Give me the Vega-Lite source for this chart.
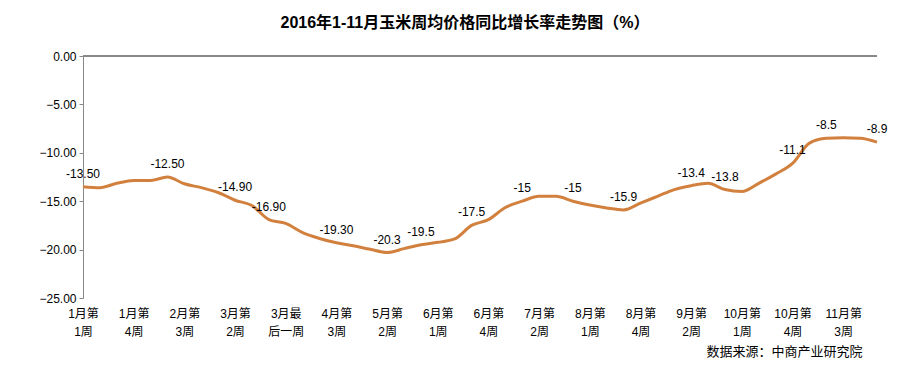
{
  "$schema": "https://vega.github.io/schema/vega-lite/v6.json",
  "autosize": "none",
  "width": 794,
  "height": 242,
  "padding": {"left": 83, "top": 56, "right": 45, "bottom": 83},
  "background": "white",
  "title": {
    "text": "2016年1-11月玉米周均价格同比增长率走势图（%）",
    "font": "Liberation Sans, Noto Sans CJK SC",
    "fontSize": 16,
    "fontWeight": "bold",
    "color": "#000000",
    "anchor": "middle",
    "dx": -15,
    "offset": 19
  },
  "config": {
    "view": {"stroke": null},
    "font": "Liberation Sans, Noto Sans CJK SC"
  },
  "data": {
    "values": [
      {"i": 0, "week": "1月第1周", "v": -13.5, "lbl": "-13.50"},
      {"i": 1, "week": "1月第2周", "v": -13.6, "lbl": ""},
      {"i": 2, "week": "1月第3周", "v": -13.15, "lbl": ""},
      {"i": 3, "week": "1月第4周", "v": -12.85, "lbl": ""},
      {"i": 4, "week": "2月第1周", "v": -12.85, "lbl": ""},
      {"i": 5, "week": "2月第2周", "v": -12.5, "lbl": "-12.50"},
      {"i": 6, "week": "2月第3周", "v": -13.2, "lbl": ""},
      {"i": 7, "week": "2月第4周", "v": -13.6, "lbl": ""},
      {"i": 8, "week": "3月第1周", "v": -14.1, "lbl": ""},
      {"i": 9, "week": "3月第2周", "v": -14.9, "lbl": "-14.90"},
      {"i": 10, "week": "3月第3周", "v": -15.45, "lbl": ""},
      {"i": 11, "week": "3月第4周", "v": -16.9, "lbl": "-16.90"},
      {"i": 12, "week": "3月最后一周", "v": -17.3, "lbl": ""},
      {"i": 13, "week": "4月第1周", "v": -18.25, "lbl": ""},
      {"i": 14, "week": "4月第2周", "v": -18.85, "lbl": ""},
      {"i": 15, "week": "4月第3周", "v": -19.3, "lbl": "-19.30"},
      {"i": 16, "week": "4月第4周", "v": -19.6, "lbl": ""},
      {"i": 17, "week": "5月第1周", "v": -19.97, "lbl": ""},
      {"i": 18, "week": "5月第2周", "v": -20.3, "lbl": "-20.3"},
      {"i": 19, "week": "5月第3周", "v": -19.9, "lbl": ""},
      {"i": 20, "week": "5月第4周", "v": -19.5, "lbl": "-19.5"},
      {"i": 21, "week": "6月第1周", "v": -19.25, "lbl": ""},
      {"i": 22, "week": "6月第2周", "v": -18.9, "lbl": ""},
      {"i": 23, "week": "6月第3周", "v": -17.5, "lbl": "-17.5"},
      {"i": 24, "week": "6月第4周", "v": -16.9, "lbl": ""},
      {"i": 25, "week": "6月最后一周", "v": -15.65, "lbl": ""},
      {"i": 26, "week": "7月第1周", "v": -15.0, "lbl": "-15"},
      {"i": 27, "week": "7月第2周", "v": -14.5, "lbl": ""},
      {"i": 28, "week": "7月第3周", "v": -14.5, "lbl": ""},
      {"i": 29, "week": "7月第4周", "v": -15.0, "lbl": "-15"},
      {"i": 30, "week": "8月第1周", "v": -15.4, "lbl": ""},
      {"i": 31, "week": "8月第2周", "v": -15.7, "lbl": ""},
      {"i": 32, "week": "8月第3周", "v": -15.9, "lbl": "-15.9"},
      {"i": 33, "week": "8月第4周", "v": -15.2, "lbl": ""},
      {"i": 34, "week": "8月最后一周", "v": -14.5, "lbl": ""},
      {"i": 35, "week": "9月第1周", "v": -13.8, "lbl": ""},
      {"i": 36, "week": "9月第2周", "v": -13.4, "lbl": "-13.4"},
      {"i": 37, "week": "9月第3周", "v": -13.15, "lbl": ""},
      {"i": 38, "week": "9月第4周", "v": -13.8, "lbl": "-13.8"},
      {"i": 39, "week": "10月第1周", "v": -14.0, "lbl": ""},
      {"i": 40, "week": "10月第2周", "v": -13.15, "lbl": ""},
      {"i": 41, "week": "10月第3周", "v": -12.2, "lbl": ""},
      {"i": 42, "week": "10月第4周", "v": -11.1, "lbl": "-11.1"},
      {"i": 43, "week": "11月第1周", "v": -9.0, "lbl": ""},
      {"i": 44, "week": "11月第2周", "v": -8.5, "lbl": "-8.5"},
      {"i": 45, "week": "11月第3周", "v": -8.45, "lbl": ""},
      {"i": 46, "week": "11月第4周", "v": -8.5, "lbl": ""},
      {"i": 47, "week": "11月最后一周", "v": -8.9, "lbl": "-8.9"}
    ]
  },
  "encoding": {
    "x": {
      "field": "week",
      "type": "ordinal",
      "sort": {"field": "i"},
      "scale": {"type": "point", "padding": 0},
      "axis": {
        "labelExpr": "indexof(['1月第1周','1月第4周','2月第3周','3月第2周','4月第3周','5月第2周','6月第1周','6月第4周','7月第2周','8月第1周','8月第4周','9月第2周','10月第1周','10月第4周','11月第3周'], datum.value) >= 0 ? [slice(datum.value, 0, -2), slice(datum.value, -2)] : (datum.value == '3月最后一周' ? ['3月最', '后一周'] : '')",
        "labelAngle": 0,
        "labelFontSize": 12,
        "labelColor": "#000000",
        "labelPadding": 10,
        "labelLineHeight": 18,
        "labelBaseline": "top",
        "labelOverlap": false,
        "labelFlush": false,
        "labelBound": false,
        "labelFont": "Liberation Sans, Noto Sans CJK SC",
        "domain": false,
        "ticks": false,
        "grid": false,
        "title": "数据来源：中商产业研究院",
        "titleFontSize": 13,
        "titleFontWeight": "normal",
        "titleColor": "#000000",
        "titleAnchor": "end",
        "titleX": 779,
        "titleAlign": "right",
        "titlePadding": 8,
        "titleFont": "Noto Sans CJK SC"
      }
    }
  },
  "layer": [
    {
      "mark": {"type": "rule", "color": "#888888", "strokeWidth": 1},
      "encoding": {"y": {"datum": 0, "type": "quantitative"}, "x": null}
    },
    {
      "mark": {"type": "line", "color": "#D2803E", "strokeWidth": 3, "interpolate": "monotone"},
      "encoding": {
        "y": {
          "field": "v",
          "type": "quantitative",
          "scale": {"domain": [-25, 0], "nice": false, "zero": false},
          "axis": {
            "values": [-25, -20, -15, -10, -5, 0],
            "format": ".2f",
            "labelFontSize": 12,
            "labelColor": "#000000",
            "labelPadding": 3,
            "tickSize": 4,
            "tickColor": "#888888",
            "domainColor": "#888888",
            "grid": false,
            "title": null
          }
        }
      }
    },
    {
      "mark": {"type": "text", "fontSize": 12, "color": "#000000", "baseline": "bottom", "dy": -6},
      "encoding": {
        "y": {"field": "v", "type": "quantitative"},
        "text": {"field": "lbl"}
      }
    }
  ]
}
